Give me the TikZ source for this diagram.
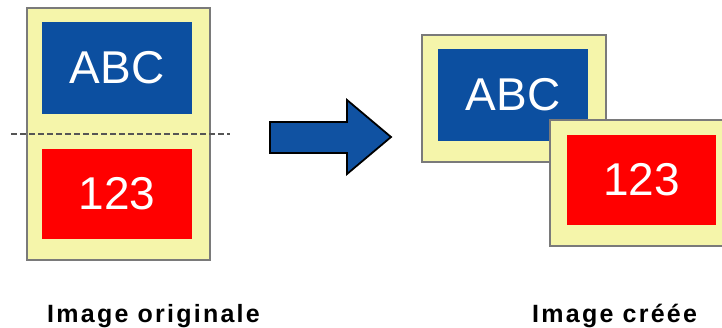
\documentclass[tikz,border=0pt]{standalone}
\usepackage{fontspec}
\setmainfont{Liberation Sans}
\newfontfamily\labelfont[LetterSpace=9]{Liberation Sans}
\definecolor{pageyellow}{HTML}{F5F5AA}
\definecolor{pageedge}{HTML}{7A7A7A}
\definecolor{boxblue}{HTML}{0C4FA0}
\definecolor{boxred}{HTML}{FF0000}
\definecolor{arrowblue}{HTML}{1052A2}
\definecolor{cutgray}{HTML}{555555}
\begin{document}
\begin{tikzpicture}[x=1pt,y=-1pt,
  page/.style={draw=pageedge,line width=1.2pt,fill=pageyellow,inner sep=0pt,outer sep=0pt},
  bluebox/.style={fill=boxblue,text=white,inner sep=0pt,outer sep=0pt,font=\fontsize{46}{50}\selectfont},
  redbox/.style={fill=boxred,text=white,inner sep=0pt,outer sep=0pt,font=\fontsize{46}{50}\selectfont},
  caption/.style={anchor=base west,inner sep=0pt,font=\labelfont\bfseries\fontsize{25}{28}\selectfont}]
\useasboundingbox (0,0) rectangle (722,327);
% original image
\node[page,minimum width=183pt,minimum height=252pt] (lp) at (118.5,134) {};
\node[bluebox,minimum width=150pt,minimum height=92pt] (labc) at (117,68) {ABC};
\node[redbox,minimum width=150pt,minimum height=90pt] (l123) at (117,194) {123};
\coordinate (cutl) at (11,134);
\coordinate (cutr) at (230,134);
\draw[cutgray,line width=2pt,dash pattern=on 6pt off 3pt] (cutl) -- (cutr);
% arrow
\filldraw[draw=black,line width=1.8pt,fill=arrowblue,line join=miter]
  (270,122) -- (347,122) -- (347,100) -- (391,137) -- (347,174) -- (347,153) -- (270,153) -- cycle;
% created image
\node[page,minimum width=184pt,minimum height=127pt] (rpa) at (514,98.5) {};
\node[bluebox,minimum width=150pt,minimum height=92pt] (rabc) at (513,95) {ABC};
\node[page,minimum width=184pt,minimum height=126pt] (rpb) at (642,183) {};
\node[redbox,minimum width=149pt,minimum height=90pt] (r123) at (641.5,180) {123};
% captions
\node[caption] (capl) at (47,322) {Image originale};
\node[caption] (capr) at (532,322) {Image créée};
\end{tikzpicture}
\end{document}
